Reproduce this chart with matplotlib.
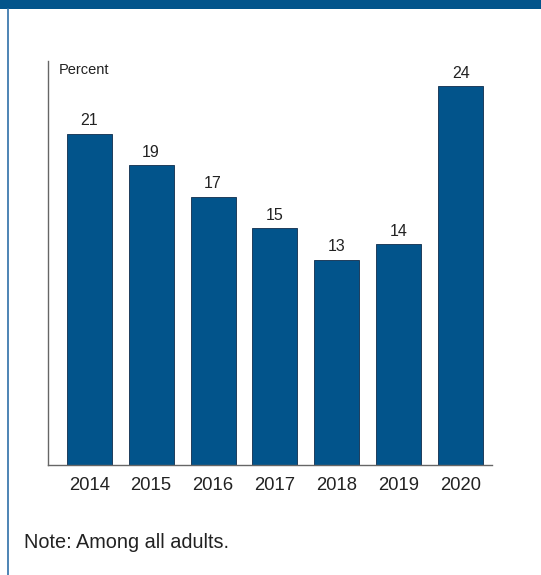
import matplotlib.pyplot as plt
from matplotlib.patches import Rectangle
from matplotlib.lines import Line2D

years = ["2014", "2015", "2016", "2017", "2018", "2019", "2020"]
percent = [21, 19, 17, 15, 13, 14, 24]

navy = "#02548b"

plt.rcParams["font.family"] = ["Liberation Sans", "DejaVu Sans"]

fig = plt.figure(figsize=(5.41, 5.75), dpi=100)

# header band and left rule
fig.patches.append(Rectangle((0, 1 - 8.7 / 575), 1, 8.7 / 575, transform=fig.transFigure,
                             facecolor=navy, edgecolor="none"))
fig.lines.append(Line2D([8 / 541, 8 / 541], [0, 1 - 8.7 / 575], transform=fig.transFigure,
                        color="#2f6fa8", linewidth=1.2))

ax = fig.add_axes([48.3 / 541, 1 - 465 / 575, (491.7 - 48.3) / 541, (465 - 61) / 575])
x = list(range(len(years)))
bars = ax.bar(x, percent, width=0.727, color=navy, edgecolor="#1e3d5c", linewidth=0.7)
for b, v in zip(bars, percent):
    ax.annotate(str(v), (b.get_x() + b.get_width() / 2, v), xytext=(0, 4),
                textcoords="offset points", ha="center", va="bottom", fontsize=11.5, color="#222222")

ax.set_xlim(-0.66, 6.5)
ax.set_ylim(0, 25.6)
ax.set_xticks(x)
ax.set_xticklabels(years, fontsize=13.3, color="#222222")
ax.tick_params(axis="x", length=0, pad=8.5)
ax.set_yticks([])
for s in ["top", "right"]:
    ax.spines[s].set_visible(False)
for s in ["left", "bottom"]:
    ax.spines[s].set_color("#666666")
    ax.spines[s].set_linewidth(1.0)

ax.text(0.024, 0.995, "Percent", transform=ax.transAxes, fontsize=10.5, color="#222222",
        ha="left", va="top")

fig.text(23.5 / 541, 1 - 548 / 575, "Note: Among all adults.", fontsize=14.3, color="#222222",
         ha="left", va="baseline")

fig.savefig("out.png", dpi=100)
